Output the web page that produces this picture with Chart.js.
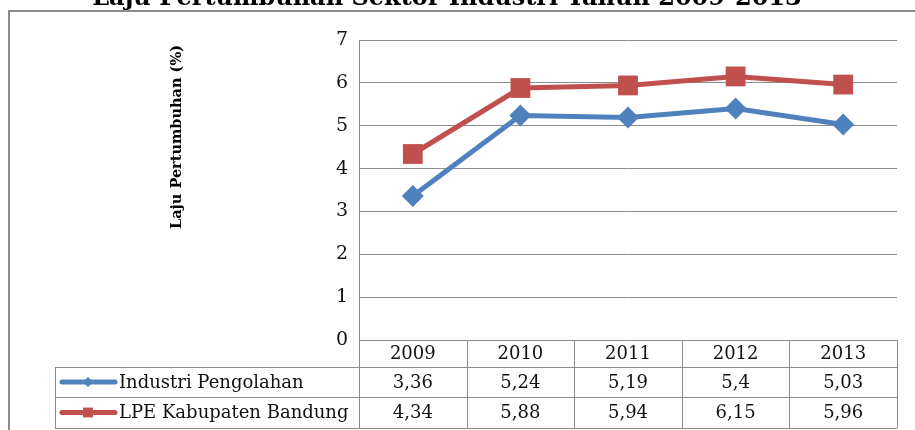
<!DOCTYPE html>
<html>
<head>
<meta charset="utf-8">
<script src="https://cdn.jsdelivr.net/npm/chart.js@4.4.1/dist/chart.umd.min.js"></script>
<style>
  html, body { margin: 0; padding: 0; background: #fff; }
</style>
</head>
<body>
<canvas id="lajuChart" width="915" height="430"></canvas>
<script>
// data
const TAHUN = ["2009", "2010", "2011", "2012", "2013"];
const INDUSTRI_PENGOLAHAN = [3.36, 5.24, 5.19, 5.4, 5.03];
const LPE_KAB_BANDUNG = [4.34, 5.88, 5.94, 6.15, 5.96];
const SERIES_LABELS = ["Industri Pengolahan", "LPE Kabupaten Bandung"];
const JUDUL = "Laju Pertumbuhan Sektor Industri Tahun 2009-2013";
const JUDUL_SUMBU_Y = "Laju Pertumbuhan (%)";

const BLUE = "#4f81bd";
const RED = "#c0504d";
const LINE_GREY = "#8c8c8c";
const SERIF = '"DejaVu Serif", serif';

function fmt(v) {
    return String(v).replace(".", ",");
}

// outer frame, title, axis title and the data table under the plot
const tablePlugin = {
    id: "dataTable",
    beforeDraw(chart) {
        const ctx = chart.ctx;
        ctx.save();
        ctx.fillStyle = "#fff";
        ctx.fillRect(0, 0, chart.width, chart.height);
        ctx.strokeStyle = LINE_GREY;
        ctx.lineWidth = 2;
        ctx.strokeRect(9, 11, 1000, 1000);
        ctx.restore();
    },
    afterDraw(chart) {
        const ctx = chart.ctx;
        const area = chart.chartArea;
        const xs = chart.scales.x;
        ctx.save();

        // title, cut off by the top edge like the reference
        ctx.fillStyle = "#000";
        ctx.font = "bold 24px " + SERIF;
        ctx.textAlign = "center";
        ctx.textBaseline = "alphabetic";
        ctx.fillText(JUDUL, 447, 5);

        // rotated y axis title
        ctx.save();
        ctx.translate(177, 137);
        ctx.rotate(-Math.PI / 2);
        ctx.font = "bold 14.5px " + SERIF;
        ctx.textAlign = "center";
        ctx.textBaseline = "middle";
        ctx.fillText(JUDUL_SUMBU_Y, 0, 0);
        ctx.restore();

        // table geometry follows the category scale
        const rows = [area.bottom, 367, 397, 428];
        const legendLeft = 55;
        const bounds = [area.left];
        for (let i = 1; i < TAHUN.length; i++) {
            bounds.push((xs.getPixelForValue(i - 1) + xs.getPixelForValue(i)) / 2);
        }
        bounds.push(area.right);

        ctx.strokeStyle = LINE_GREY;
        ctx.lineWidth = 1;
        ctx.beginPath();
        for (let r = 1; r < rows.length; r++) {
            ctx.moveTo(legendLeft, rows[r] + 0.5);
            ctx.lineTo(area.right, rows[r] + 0.5);
        }
        bounds.forEach(function (b) {
            ctx.moveTo(Math.round(b) + 0.5, rows[0]);
            ctx.lineTo(Math.round(b) + 0.5, rows[3]);
        });
        ctx.moveTo(legendLeft + 0.5, rows[1]);
        ctx.lineTo(legendLeft + 0.5, rows[3]);
        ctx.stroke();

        ctx.fillStyle = "#111";
        ctx.font = "18px " + SERIF;
        ctx.textAlign = "center";
        ctx.textBaseline = "middle";
        const rowData = [INDUSTRI_PENGOLAHAN, LPE_KAB_BANDUNG];
        TAHUN.forEach(function (t, i) {
            const cx = xs.getPixelForValue(i);
            ctx.fillText(t, cx, (rows[0] + rows[1]) / 2 + 1);
            rowData.forEach(function (arr, k) {
                ctx.fillText(fmt(arr[i]), cx, (rows[k + 1] + rows[k + 2]) / 2 + 1);
            });
        });

        // legend keys inside the table
        chart.data.datasets.forEach(function (ds, k) {
            const cy = (rows[k + 1] + rows[k + 2]) / 2;
            ctx.strokeStyle = ds.borderColor;
            ctx.lineWidth = 5;
            ctx.lineCap = "round";
            ctx.beginPath();
            ctx.moveTo(62, cy);
            ctx.lineTo(115, cy);
            ctx.stroke();
            ctx.fillStyle = ds.backgroundColor;
            Chart.helpers.drawPoint(ctx, {
                pointStyle: ds.pointStyle,
                radius: k === 0 ? 5 : 7,
                borderWidth: 0
            }, 88, cy);
            ctx.fillStyle = "#111";
            ctx.textAlign = "left";
            ctx.fillText(SERIES_LABELS[k], 119, cy + 1);
        });

        ctx.restore();
    }
};

const ctx = document.getElementById("lajuChart").getContext("2d");
const lajuChart = new Chart(ctx, {
    type: "line",
    data: {
        labels: TAHUN,
        datasets: [
            {
                label: SERIES_LABELS[0],
                data: INDUSTRI_PENGOLAHAN,
                borderColor: BLUE,
                backgroundColor: BLUE,
                borderWidth: 5,
                pointStyle: "rectRot",
                pointRadius: 11,
                pointBorderWidth: 0,
                tension: 0
            },
            {
                label: SERIES_LABELS[1],
                data: LPE_KAB_BANDUNG,
                borderColor: RED,
                backgroundColor: RED,
                borderWidth: 5,
                pointStyle: "rect",
                pointRadius: 14,
                pointBorderWidth: 0,
                tension: 0
            }
        ]
    },
    options: {
        responsive: false,
        animation: false,
        layout: {
            padding: { left: 0, top: 40, right: 18, bottom: 90 }
        },
        scales: {
            x: {
                display: false,
                offset: true
            },
            y: {
                min: 0,
                max: 7,
                ticks: {
                    stepSize: 1,
                    padding: 11,
                    color: "#111",
                    font: { family: SERIF, size: 19 }
                },
                grid: {
                    color: LINE_GREY,
                    drawTicks: false
                },
                border: { color: LINE_GREY },
                afterFit: function (scale) {
                    scale.width = 359;
                }
            }
        },
        plugins: {
            legend: { display: false },
            tooltip: { enabled: false }
        }
    },
    plugins: [tablePlugin]
});
</script>
</body>
</html>
